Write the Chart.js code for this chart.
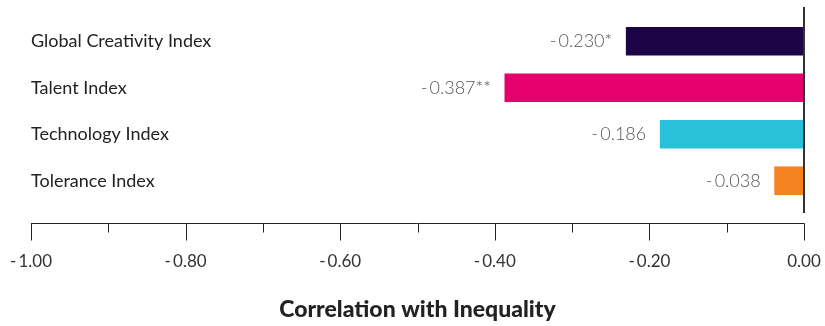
<!DOCTYPE html>
<html>
<head>
<meta charset="utf-8">
<script src="https://cdn.jsdelivr.net/npm/chart.js@4"></script>
<style>
  html, body { margin: 0; padding: 0; background: #fff; }
  #wrap { width: 825px; height: 326px; }
</style>
</head>
<body>
<div id="wrap"><canvas id="chart"></canvas></div>
<script>
const categories = ["Global Creativity Index", "Talent Index", "Technology Index", "Tolerance Index"];
const correlations = [-0.230, -0.387, -0.186, -0.038];
const significance = ["*", "**", "", ""];
const barColors = ["#1c0446", "#e5006e", "#29c1d9", "#f4821f"];
const xTickLabels = [-1.0, -0.8, -0.6, -0.4, -0.2, 0.0];
const axisTitle = "Correlation with Inequality";

const FONT = "Lato";

function fmt(v, digits) {
  if (Math.abs(v) < 1e-9) return (0).toFixed(digits);
  return (v < 0 ? "-\u2009" : "") + Math.abs(v).toFixed(digits);
}

function isMajor(v) {
  return xTickLabels.some((t) => Math.abs(t - v) < 1e-6);
}

// zero line, bottom axis line with major/minor ticks, value labels
const decorations = {
  id: "decorations",
  afterDatasetsDraw(chart) {
    const { ctx, chartArea, scales } = chart;
    const x = scales.x;
    ctx.save();

    const x0 = Math.round(x.getPixelForValue(0));
    ctx.strokeStyle = "#333";
    ctx.lineWidth = 2;
    ctx.beginPath();
    ctx.moveTo(x0, chartArea.top - 11);
    ctx.lineTo(x0, chartArea.bottom + 9);
    ctx.stroke();

    const axisY = Math.round(chartArea.bottom + 19) + 0.5;
    ctx.lineWidth = 1;
    ctx.strokeStyle = "#222";
    ctx.beginPath();
    ctx.moveTo(x.left, axisY);
    ctx.lineTo(x.right + 0.5, axisY);
    x.ticks.forEach((t) => {
      const px = Math.round(x.getPixelForValue(t.value)) + 0.5;
      ctx.moveTo(px, axisY);
      ctx.lineTo(px, axisY + (isMajor(t.value) ? 17 : 9));
    });
    ctx.stroke();

    const meta = chart.getDatasetMeta(0);
    ctx.font = "300 18px " + FONT;
    ctx.fillStyle = "#555";
    ctx.textAlign = "right";
    ctx.textBaseline = "middle";
    meta.data.forEach((bar, i) => {
      ctx.fillText(fmt(correlations[i], 3) + significance[i], bar.x - 14, bar.y);
    });
    ctx.restore();
  }
};

new Chart(document.getElementById("chart"), {
  type: "bar",
  data: {
    labels: categories,
    datasets: [
      {
        data: correlations,
        backgroundColor: barColors,
        borderWidth: 0,
        barThickness: 28,
      },
    ],
  },
  options: {
    indexAxis: "y",
    responsive: true,
    maintainAspectRatio: false,
    animation: false,
    layout: { padding: { left: 31, right: 21, top: 18, bottom: 0 } },
    plugins: {
      legend: { display: false },
      tooltip: { enabled: false },
    },
    scales: {
      x: {
        type: "linear",
        min: -1,
        max: 0,
        border: { display: false },
        grid: {
          drawOnChartArea: false,
          drawTicks: true,
          tickLength: 44,
          tickColor: "rgba(0,0,0,0)",
        },
        ticks: {
          stepSize: 0.1,
          padding: 3,
          autoSkip: false,
          maxRotation: 0,
          color: "#333",
          font: { family: FONT, size: 17 },
          callback: (v) => (isMajor(v) ? fmt(v, 2) : ""),
        },
        title: {
          display: true,
          text: axisTitle,
          color: "#222",
          font: { family: FONT, size: 23, weight: "900" },
          padding: { top: 21, bottom: 3 },
        },
      },
      y: {
        type: "category",
        border: { display: false },
        grid: { display: false, drawTicks: false },
        ticks: {
          mirror: true,
          padding: 0,
          color: "#222",
          font: { family: FONT, size: 18 },
        },
      },
    },
  },
  plugins: [decorations],
});
</script>
</body>
</html>
